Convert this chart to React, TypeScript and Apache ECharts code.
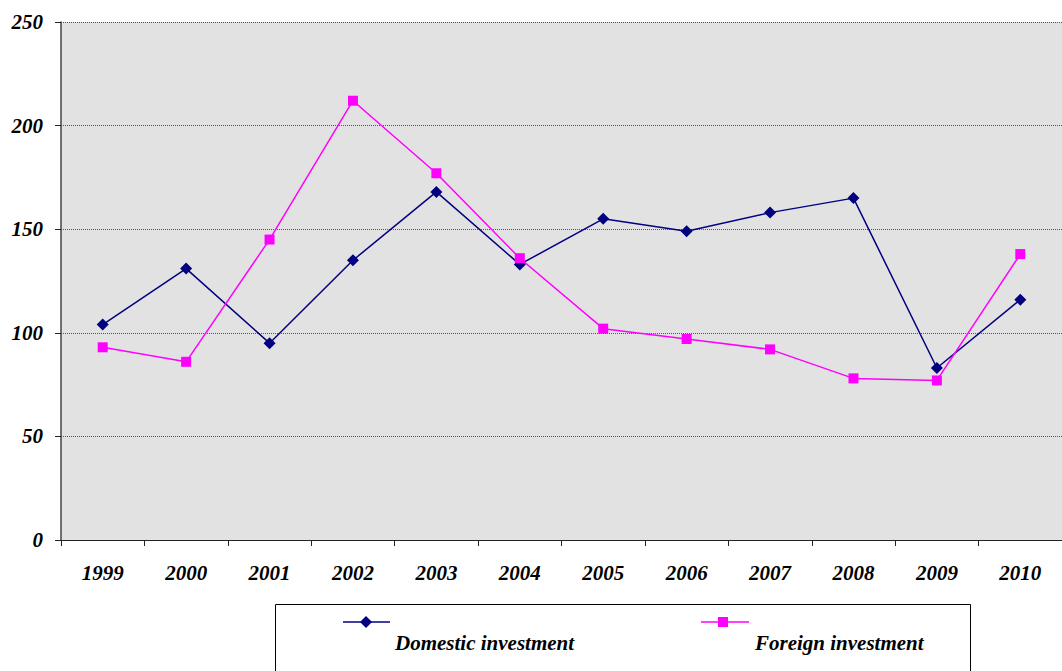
import React, { useEffect, useRef } from "react";
import * as echarts from "echarts";

const years = ["1999", "2000", "2001", "2002", "2003", "2004", "2005", "2006", "2007", "2008", "2009", "2010"];
const domestic = [104, 131, 95, 135, 168, 133, 155, 149, 158, 165, 83, 116];
const foreign = [93, 86, 145, 212, 177, 136, 102, 97, 92, 78, 77, 138];
const seriesNames = ["Domestic investment", "Foreign investment"];
const yTicks = { min: 0, max: 250, interval: 50 };

const FONT = "Liberation Serif";
const NAVY = "#000080";
const MAGENTA = "#ff00ff";

export default function App() {
  const ref = useRef<HTMLDivElement>(null);
  useEffect(() => {
    if (!ref.current) return;
    const chart = echarts.init(ref.current, null, { renderer: "svg" });
    const textStyle = { fontFamily: FONT, fontSize: 21, fontWeight: "bold", fontStyle: "italic", fill: "#000" };
    chart.setOption({
      animation: false,
      grid: { left: 61, right: -9, top: 22, bottom: 131, show: true, backgroundColor: "#e2e2e2", borderWidth: 0 },
      xAxis: {
        type: "category",
        data: years,
        boundaryGap: true,
        axisLine: { lineStyle: { color: "#222", width: 1 } },
        axisTick: { show: true, length: 6, inside: false, lineStyle: { color: "#222" } },
        axisLabel: { fontFamily: FONT, fontSize: 21, fontWeight: "bold", fontStyle: "italic", color: "#000", margin: 22 },
      },
      yAxis: {
        type: "value",
        min: yTicks.min,
        max: yTicks.max,
        interval: yTicks.interval,
        axisLine: { show: true, lineStyle: { color: "#444", width: 1.5 } },
        axisTick: { show: true, length: 6, lineStyle: { color: "#222" } },
        axisLabel: { fontFamily: FONT, fontSize: 21, fontWeight: "bold", fontStyle: "italic", color: "#000", margin: 18 },
        splitLine: { show: true, lineStyle: { color: "#555", width: 1, type: [1, 1] } },
      },
      series: [
        {
          name: seriesNames[0],
          type: "line",
          data: domestic,
          symbol: "diamond",
          symbolSize: 12,
          lineStyle: { color: NAVY, width: 1.5 },
          itemStyle: { color: NAVY },
        },
        {
          name: seriesNames[1],
          type: "line",
          data: foreign,
          symbol: "rect",
          symbolSize: 10,
          lineStyle: { color: MAGENTA, width: 1.5 },
          itemStyle: { color: MAGENTA },
        },
      ],
      graphic: [
        { type: "rect", shape: { x: 275.5, y: 604.5, width: 695, height: 80 }, style: { fill: "#fff", stroke: "#000", lineWidth: 1 } },
        { type: "line", shape: { x1: 343, y1: 622, x2: 390, y2: 622 }, style: { stroke: NAVY, lineWidth: 1.5 } },
        { type: "polygon", shape: { points: [[366, 616], [372, 622], [366, 628], [360, 622]] }, style: { fill: NAVY } },
        { type: "text", x: 395, y: 643, style: { ...textStyle, text: seriesNames[0], verticalAlign: "middle" } },
        { type: "line", shape: { x1: 701, y1: 622, x2: 749, y2: 622 }, style: { stroke: MAGENTA, lineWidth: 1.5 } },
        { type: "rect", shape: { x: 718, y: 617, width: 10, height: 10 }, style: { fill: MAGENTA } },
        { type: "text", x: 755, y: 643, style: { ...textStyle, text: seriesNames[1], verticalAlign: "middle" } },
      ],
    });
    return () => chart.dispose();
  }, []);
  return <div ref={ref} style={{ position: "fixed", left: 0, top: 0, width: 1062, height: 671, background: "#fff" }} />;
}
